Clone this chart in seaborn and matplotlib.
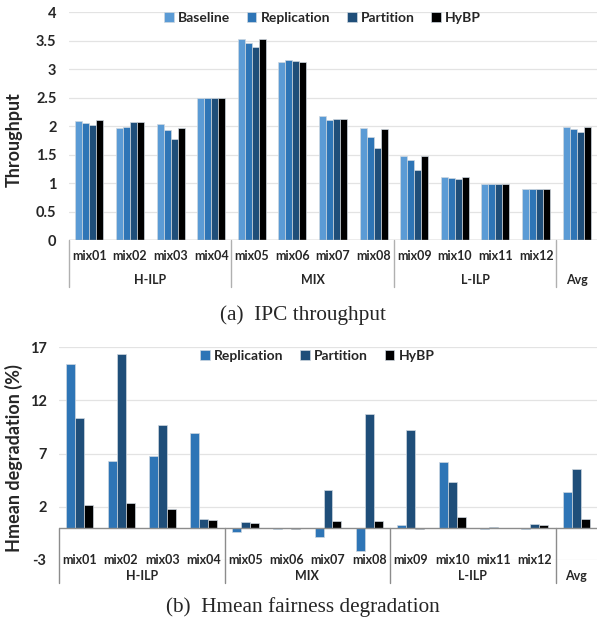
"""IPC throughput and Hmean fairness degradation bar charts

"""

import pandas as pd
import seaborn as sns
import matplotlib.pyplot as plt

mixes = ["mix01", "mix02", "mix03", "mix04", "mix05", "mix06", "mix07",
         "mix08", "mix09", "mix10", "mix11", "mix12", "Avg"]
groups = [("H-ILP", 1.5), ("MIX", 5.5), ("L-ILP", 9.5), ("Avg", 12)]
separators = [-0.5, 3.5, 7.5, 11.5]

# throughput
baseline_ipc = [2.09, 1.97, 2.04, 2.50, 3.53, 3.13, 2.18, 1.97, 1.48, 1.10, 0.99, 0.89, 1.99]
replication_ipc = [2.06, 1.99, 1.93, 2.50, 3.45, 3.15, 2.11, 1.80, 1.41, 1.09, 0.99, 0.90, 1.95]
partition_ipc = [2.02, 2.07, 1.78, 2.50, 3.38, 3.14, 2.13, 1.62, 1.22, 1.07, 0.99, 0.89, 1.90]
hybp_ipc = [2.10, 2.07, 1.97, 2.50, 3.53, 3.13, 2.13, 1.94, 1.48, 1.10, 0.99, 0.89, 1.98]

# hmean degradation (%)
replication_hm = [15.4, 6.28, 6.8, 8.9, -0.38, -0.05, -0.8, -2.2, 0.25, 6.2, -0.12, -0.05, 3.34]
partition_hm = [10.3, 16.3, 9.7, 0.81, 0.53, 0.02, 3.6, 10.7, 9.25, 4.35, 0.12, 0.34, 5.5]
hybp_hm = [2.16, 2.31, 1.78, 0.72, 0.44, -0.08, 0.63, 0.69, -0.08, 1.03, 0.05, 0.31, 0.81]

colors = {"Baseline": "#5b9bd5", "Replication": "#2e75b6",
          "Partition": "#1f4e79", "HyBP": "#000000"}

FONT = "Lato"


def long_table(series):
    rows = []
    for name, vals in series.items():
        for mix, v in zip(mixes, vals):
            rows.append({"mix": mix, "scheme": name, "value": v})
    return pd.DataFrame(rows)


def draw(ax, df, width, ymin, ymax, step, ylabel, label_xy, mix_y, grp_y,
         sep_top, sep_bot, zero_color, legend_anchor):
    sns.barplot(data=df, x="mix", y="value", hue="scheme", order=mixes,
                palette=colors, width=width, gap=0, ax=ax,
                edgecolor="#cfd8e0", linewidth=0.5, saturation=1)
    ax.set_ylim(ymin, ymax)
    ax.set_xlim(-0.5, len(mixes) - 0.5)
    ticks = [ymin + step * i for i in range(int(round((ymax - ymin) / step)) + 1)]
    ax.set_yticks(ticks)
    ax.set_yticklabels([f"{t:g}" for t in ticks], fontweight="bold",
                       fontsize=10.5, family=FONT)
    ax.tick_params(axis="y", length=0, pad=9)
    ax.tick_params(axis="x", length=0, labelbottom=False)
    ax.set_xlabel("")
    ax.set_ylabel(ylabel, fontweight="bold", fontsize=13, family=FONT)
    ax.yaxis.set_label_coords(*label_xy)
    for s in ax.spines.values():
        s.set_visible(False)
    ax.set_axisbelow(True)
    ax.yaxis.grid(True, color="#e3e3e3", lw=0.9)
    ax.axhline(0, color=zero_color, lw=1.0, zorder=3)

    trans = ax.get_xaxis_transform()
    # the Avg column only carries its group label
    for i, m in enumerate(mixes[:-1]):
        ax.text(i, mix_y, m, transform=trans, ha="center", va="center",
                fontsize=9, fontweight="bold", family=FONT)
    for name, x in groups:
        ax.text(x, grp_y, name, transform=trans, ha="center", va="center",
                fontsize=9, fontweight="bold", family=FONT)
    for x in separators:
        ax.plot([x, x], [sep_top, sep_bot], transform=trans, color=zero_color,
                lw=1.0, clip_on=False)

    sns.move_legend(ax, "upper center", bbox_to_anchor=legend_anchor,
                    ncol=4, frameon=False, title=None, handlelength=0.7,
                    handleheight=0.7, handletextpad=0.3, columnspacing=1.2,
                    prop={"family": FONT, "weight": "bold", "size": 10})


sns.set_style("white")
fig = plt.figure(figsize=(5.97, 6.22), dpi=100)

ax1 = fig.add_axes([0.1156, 0.6141, 0.8844, 0.3666])
ipc = long_table({"Baseline": baseline_ipc, "Replication": replication_ipc,
                  "Partition": partition_ipc, "HyBP": hybp_ipc})
draw(ax1, ipc, 0.69, 0, 4, 0.5, "Throughput", (-0.087, 0.44), -0.070, -0.175,
     0, -0.206, "#b0b0b0", (0.48, 1.055))

ax2 = fig.add_axes([0.0988, 0.0997, 0.9012, 0.3424])
hm = long_table({"Replication": replication_hm, "Partition": partition_hm,
                 "HyBP": hybp_hm})
draw(ax2, hm, 0.65, -3, 17, 5, "Hmean degradation (%)", (-0.067, 0.48), 0.0,
     -0.075, 0.15, -0.108, "#8c8c8c", (0.48, 1.045))

fig.text(0.507, 1 - 315 / 622, "(a)  IPC throughput", ha="center", va="center",
         family="Liberation Serif", fontsize=15.3)
fig.text(0.508, 1 - 607 / 622, "(b)  Hmean fairness degradation", ha="center",
         va="center", family="Liberation Serif", fontsize=15.3)

fig.savefig("out.png", dpi=100)
